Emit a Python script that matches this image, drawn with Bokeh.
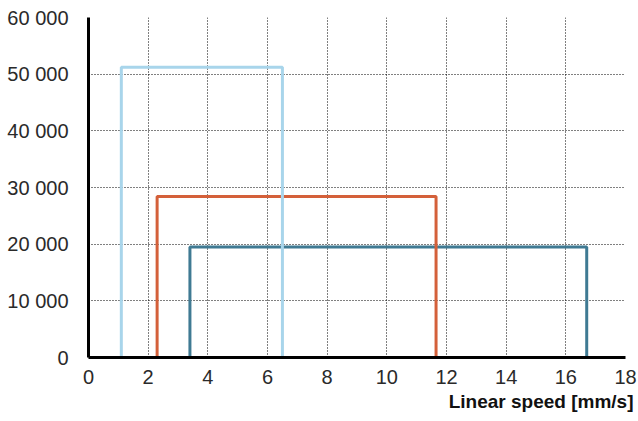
from bokeh.plotting import figure
from bokeh.models import Range1d, CustomJSTickFormatter, FixedTicker, Title
from bokeh.embed import file_html
from bokeh.resources import INLINE

# Data: step profiles (speed in mm/s vs. value)
blue_x = [0, 1.1, 1.1, 6.5, 6.5]
blue_y = [0, 0, 51200, 51200, 0]
orange_x = [0, 2.3, 2.3, 11.65, 11.65]
orange_y = [0, 0, 28400, 28400, 0]
teal_x = [0, 3.4, 3.4, 16.7, 16.7]
teal_y = [0, 0, 19500, 19500, 0]
x_ticks = [0, 2, 4, 6, 8, 10, 12, 14, 16, 18]
y_ticks = [0, 10000, 20000, 30000, 40000, 50000, 60000]
x_title = "Linear speed [mm/s]"

p = figure(width=638, height=421, output_backend="svg", toolbar_location=None,
           x_range=Range1d(0, 18), y_range=Range1d(0, 60000),
           min_border_left=88, min_border_right=13, min_border_top=17, min_border_bottom=64)
p.outline_line_color = None

p.line(teal_x, teal_y, line_color="#3f7a93", line_width=3)
p.line(orange_x, orange_y, line_color="#d4603a", line_width=3)
p.line(blue_x, blue_y, line_color="#a8d5eb", line_width=3)

font = "Liberation Sans"
for ax in (p.xaxis[0], p.yaxis[0]):
    ax.axis_line_color = "black"
    ax.axis_line_width = 3
    ax.major_tick_line_color = None
    ax.minor_tick_line_color = None
    ax.major_label_text_font = font
    ax.major_label_text_font_size = "20px"
    ax.major_label_text_color = "#2a2a2a"

p.xaxis[0].ticker = FixedTicker(ticks=x_ticks)
p.yaxis[0].ticker = FixedTicker(ticks=y_ticks)
p.yaxis[0].formatter = CustomJSTickFormatter(
    code='return Math.round(tick).toString().replace(/\\B(?=(\\d{3})+(?!\\d))/g, " ");')
p.yaxis[0].major_label_standoff = 14
p.xaxis[0].major_label_standoff = 6

t = Title(text=x_title, align="right", text_font=font, text_font_style="bold",
          text_font_size="19px", text_color="#111111", offset=-8, standoff=5)
p.add_layout(t, "below")

for g in (p.xgrid[0], p.ygrid[0]):
    g.grid_line_color = "black"
    g.grid_line_dash = "1 2"
    g.grid_line_width = 1

p.xgrid[0].ticker = FixedTicker(ticks=x_ticks)
p.ygrid[0].ticker = FixedTicker(ticks=y_ticks)

open("out.html", "w").write(file_html(p, INLINE))
